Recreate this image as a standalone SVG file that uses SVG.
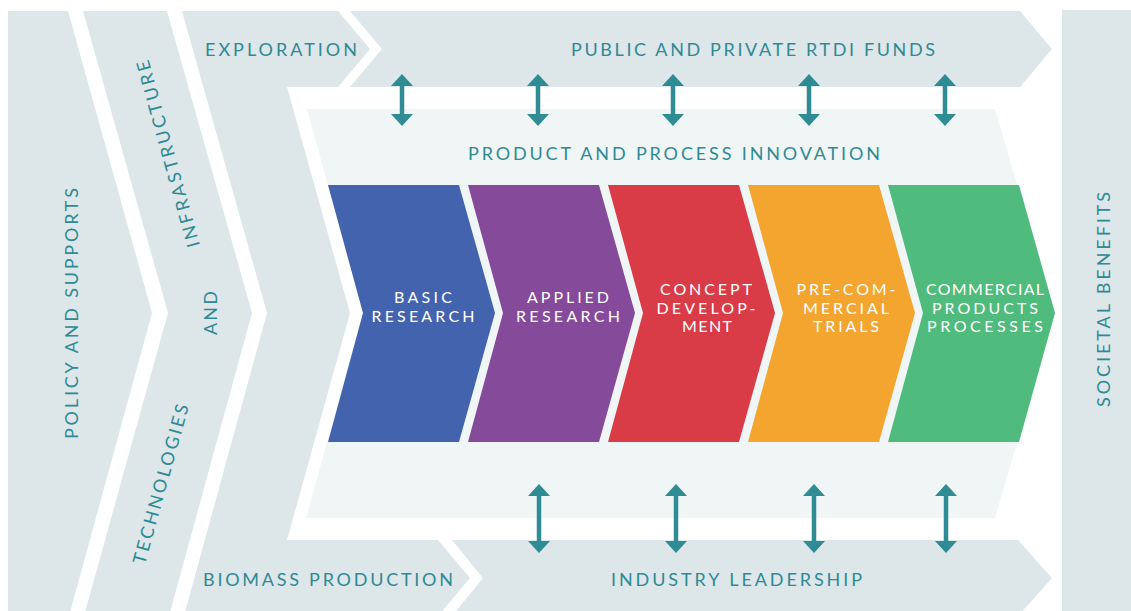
<svg xmlns="http://www.w3.org/2000/svg" width="1131" height="611" viewBox="0 0 1131 611">
  <defs>
    <style>
      .band { fill: #dde6e9; }
      .panel { fill: #f0f6f6; }
      .lbl { font-family: Lato, "Open Sans", "Liberation Sans", sans-serif; font-size: 18px; fill: #2f8a94; text-anchor: middle; }
      .clbl { font-family: Lato, "Open Sans", "Liberation Sans", sans-serif; font-size: 16px; fill: #ffffff; text-anchor: middle; }
      .conn { stroke: #2f8c95; stroke-width: 4.5; fill: none; marker-start: url(#head); marker-end: url(#head); }
    </style>
    <marker id="head" markerUnits="userSpaceOnUse" viewBox="0 0 12 22" markerWidth="12" markerHeight="22" refX="0" refY="11" orient="auto-start-reverse">
      <path d="M0,0 L12,11 L0,22 Z" fill="#2f8c95"/>
    </marker>
  </defs>
  <rect width="1131" height="611" fill="#ffffff"/>

  <g id="policy">
    <polygon class="band" points="8,11 68,11 152,313 69,616 8,616"/>
    <text class="lbl" transform="translate(78,313.5) rotate(-90)" textLength="251" lengthAdjust="spacing">POLICY AND SUPPORTS</text>
  </g>

  <g id="infrastructure">
    <polygon class="band" points="83,11 167,11 252,313 169,616 84,616 168,313"/>
    <text class="lbl" transform="translate(168,154) rotate(-105.5)" y="6.5" textLength="193" lengthAdjust="spacing">INFRASTRUCTURE</text>
    <text class="lbl" transform="translate(217,313) rotate(-90)" textLength="44" lengthAdjust="spacing">AND</text>
    <text class="lbl" transform="translate(160.5,484) rotate(-74.5)" y="6.5" textLength="165" lengthAdjust="spacing">TECHNOLOGIES</text>
  </g>

  <g id="exploration-biomass">
    <polygon class="band" points="182,11 338,11 370,49 338,87 287,87 350,313 287,540 438,540 470,578 438,616 184,616 267,313"/>
    <text class="lbl" x="281" y="56" textLength="152" lengthAdjust="spacing">EXPLORATION</text>
    <text class="lbl" x="328" y="586" textLength="250" lengthAdjust="spacing">BIOMASS PRODUCTION</text>
  </g>

  <g id="funds">
    <polygon class="band" points="350,11 1020,11 1052,49 1020,87 350,87 382,49"/>
    <text class="lbl" x="753" y="56" textLength="364" lengthAdjust="spacing">PUBLIC AND PRIVATE RTDI FUNDS</text>
  </g>

  <g id="industry">
    <polygon class="band" points="452,540 1018,540 1052,578 1018,616 452,616 483,578"/>
    <text class="lbl" x="736.5" y="586" textLength="251" lengthAdjust="spacing">INDUSTRY LEADERSHIP</text>
  </g>

  <g id="societal">
    <rect class="band" x="1062" y="10" width="69" height="601"/>
    <text class="lbl" transform="translate(1110,299.5) rotate(-90)" textLength="215" lengthAdjust="spacing">SOCIETAL BENEFITS</text>
  </g>

  <g id="innovation">
    <polygon class="panel" points="307,109 995,109 1055,313 995,518 306,518 363,313"/>
    <text class="lbl" x="674" y="160" textLength="412" lengthAdjust="spacing">PRODUCT AND PROCESS INNOVATION</text>
  </g>

  <g id="basic-research">
    <polygon fill="#4363ae" points="328,185 459,185 495,313 459,442 328,442 363,313"/>
    <text class="clbl" x="423" y="303" textLength="58" lengthAdjust="spacing">BASIC</text>
    <text class="clbl" x="423" y="322" textLength="103" lengthAdjust="spacing">RESEARCH</text>
  </g>

  <g id="applied-research">
    <polygon fill="#854a9a" points="468,185 599,185 635,313 599,442 468,442 503,313"/>
    <text class="clbl" x="568" y="303" textLength="82" lengthAdjust="spacing">APPLIED</text>
    <text class="clbl" x="568" y="322" textLength="104" lengthAdjust="spacing">RESEARCH</text>
  </g>

  <g id="concept-development">
    <polygon fill="#d93c47" points="608,185 739,185 775,313 739,442 608,442 643,313"/>
    <text class="clbl" x="706" y="294.5" textLength="92" lengthAdjust="spacing">CONCEPT</text>
    <text class="clbl" x="706" y="313.5" textLength="99" lengthAdjust="spacing">DEVELOP-</text>
    <text class="clbl" x="707" y="332" textLength="50" lengthAdjust="spacing">MENT</text>
  </g>

  <g id="pre-commercial-trials">
    <polygon fill="#f3a530" points="748,185 879,185 915,313 879,442 748,442 783,313"/>
    <text class="clbl" x="846" y="294.5" textLength="99" lengthAdjust="spacing">PRE-COM-</text>
    <text class="clbl" x="846" y="313.5" textLength="86" lengthAdjust="spacing">MERCIAL</text>
    <text class="clbl" x="846" y="332" textLength="66" lengthAdjust="spacing">TRIALS</text>
  </g>

  <g id="commercial-products">
    <polygon fill="#4fbb7c" points="888,185 1019,185 1055,313 1019,442 888,442 923,313"/>
    <text class="clbl" x="985" y="294.5" textLength="118" lengthAdjust="spacing">COMMERCIAL</text>
    <text class="clbl" x="985" y="313.5" textLength="106" lengthAdjust="spacing">PRODUCTS</text>
    <text class="clbl" x="985" y="332" textLength="116" lengthAdjust="spacing">PROCESSES</text>
  </g>

  <g id="connectors">
    <line class="conn" x1="402" y1="86" x2="402" y2="114"/>
    <line class="conn" x1="538" y1="86" x2="538" y2="114"/>
    <line class="conn" x1="673" y1="86" x2="673" y2="114"/>
    <line class="conn" x1="809" y1="86" x2="809" y2="114"/>
    <line class="conn" x1="945" y1="86" x2="945" y2="114"/>
    <line class="conn" x1="539" y1="496" x2="539" y2="541"/>
    <line class="conn" x1="676" y1="496" x2="676" y2="541"/>
    <line class="conn" x1="814" y1="496" x2="814" y2="541"/>
    <line class="conn" x1="946" y1="496" x2="946" y2="541"/>
  </g>
</svg>
